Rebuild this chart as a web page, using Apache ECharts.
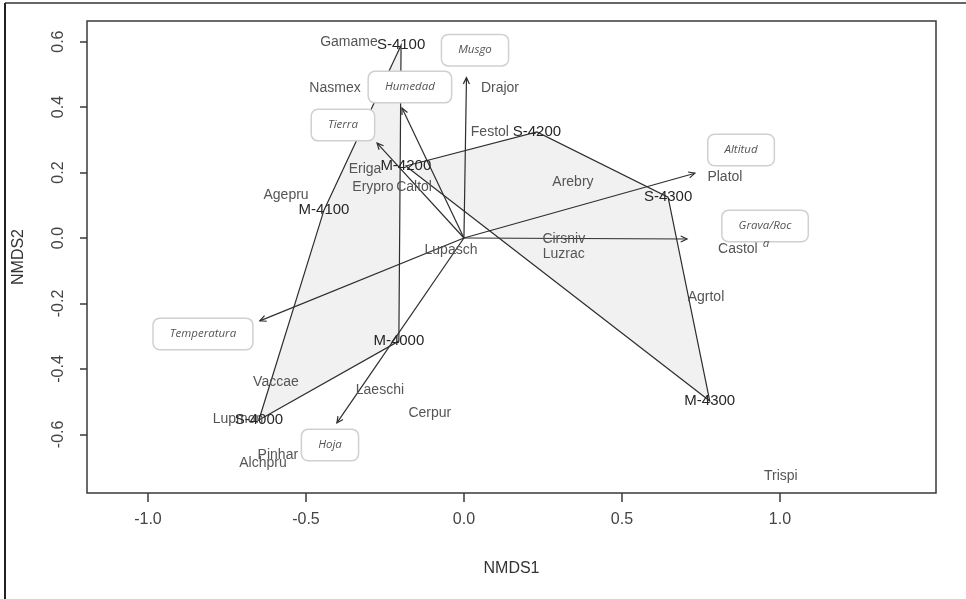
<!DOCTYPE html>
<html>
<head>
<meta charset="utf-8">
<script src="https://cdn.jsdelivr.net/npm/echarts@6/dist/echarts.min.js"></script>
<style>
  html, body { margin: 0; padding: 0; background: #fff; }
  #chart { width: 966px; height: 599px; }
</style>
</head>
<body>
<div id="chart"></div>
<script>
// NMDS ordination: site scores, species scores, hulls and fitted environmental vectors
const siteNames = ['S-4000', 'M-4000', 'M-4100', 'S-4100', 'M-4200', 'S-4200', 'S-4300', 'M-4300'];
const siteX = [-0.649, -0.206, -0.443, -0.199, -0.184, 0.231, 0.646, 0.778];
const siteY = [-0.556, -0.315, 0.085, 0.589, 0.220, 0.324, 0.125, -0.498];

// convex hulls, listed by site name
const hullA = ['S-4000', 'M-4100', 'S-4100', 'M-4000'];
const hullB = ['M-4200', 'S-4200', 'S-4300', 'M-4300'];

const speciesNames = ['Gamame', 'Nasmex', 'Drajor', 'Festol', 'Eriga', 'Erypro', 'Caltol', 'Agepru',
  'Lupasch', 'Arebry', 'Platol', 'Cirsniv', 'Luzrac', 'Castol', 'Agrtol', 'Vaccae', 'Laeschi',
  'Cerpur', 'Lupmon', 'Pinhar', 'Alchpru', 'Trispi'];
const speciesX = [-0.364, -0.408, 0.114, 0.082, -0.313, -0.288, -0.158, -0.563,
  -0.041, 0.345, 0.826, 0.316, 0.316, 0.867, 0.766, -0.595, -0.266,
  -0.108, -0.715, -0.589, -0.636, 1.003];
const speciesY = [0.598, 0.458, 0.458, 0.324, 0.211, 0.156, 0.156, 0.131,
  -0.037, 0.171, 0.186, -0.003, -0.049, -0.034, -0.180, -0.440, -0.464,
  -0.534, -0.553, -0.663, -0.687, -0.727];

// environmental vectors (arrow tips, drawn from the origin)
const vectorNames = ['Altitud', 'Grava/Roca', 'Musgo', 'Humedad', 'Tierra', 'Temperatura', 'Hoja'];
const vectorX = [0.731, 0.706, 0.008, -0.196, -0.275, -0.646, -0.402];
const vectorY = [0.198, -0.003, 0.490, 0.397, 0.290, -0.253, -0.565];

// boxed captions for the vectors
const captionText = ['Altitud', 'Grava/Roc', 'Musgo', 'Humedad', 'Tierra', 'Temperatura', 'Hoja'];
const captionX = [0.877, 0.953, 0.035, -0.171, -0.383, -0.826, -0.424];
const captionY = [0.269, 0.037, 0.574, 0.461, 0.345, -0.293, -0.632];
// wrapped tail of the "Grava/Roca" caption
const captionTail = ['a'];
const captionTailX = [0.956];
const captionTailY = [-0.018];

const xTicks = [-1.0, -0.5, 0.0, 0.5, 1.0];
const yTicks = [-0.6, -0.4, -0.2, 0.0, 0.2, 0.4, 0.6];

const FONT = '"Liberation Sans", Arial, sans-serif';
const CAPTION_FONT = '"Open Sans", "Liberation Sans", sans-serif';
const INK = '#262626';

const siteIndex = name => siteNames.indexOf(name);
const hullData = [hullA, hullB].map(h => h.map(n => [siteX[siteIndex(n)], siteY[siteIndex(n)]]));

const chart = echarts.init(document.getElementById('chart'), null, { renderer: 'canvas' });

const option = {
  backgroundColor: '#ffffff',
  animation: false,
  grid: {
    left: 87, right: 30, top: 21, bottom: 106,
    show: true, borderColor: '#3a3a3a', borderWidth: 1.5, backgroundColor: 'transparent'
  },
  xAxis: {
    type: 'value', min: -1.193, max: 1.494,
    name: 'NMDS1', nameLocation: 'middle', nameGap: 68,
    nameTextStyle: { fontFamily: FONT, fontSize: 16, color: '#333' },
    axisLine: { show: false, onZero: false },
    splitLine: { show: false },
    axisTick: { show: true, length: 9, customValues: xTicks, lineStyle: { color: '#3a3a3a', width: 1.5 } },
    axisLabel: {
      customValues: xTicks, margin: 19, fontFamily: FONT, fontSize: 16, color: '#444',
      formatter: v => v.toFixed(1)
    }
  },
  yAxis: {
    type: 'value', min: -0.779, max: 0.663,
    name: 'NMDS2', nameLocation: 'middle', nameGap: 60, nameRotate: 90,
    nameTextStyle: { fontFamily: FONT, fontSize: 16, color: '#333' },
    axisLine: { show: false, onZero: false },
    splitLine: { show: false },
    axisTick: { show: true, length: 7, customValues: yTicks, lineStyle: { color: '#3a3a3a', width: 1.5 } },
    axisLabel: {
      customValues: yTicks, margin: 20, rotate: 90, fontFamily: FONT, fontSize: 16, color: '#444',
      formatter: v => v.toFixed(1)
    }
  },
  graphic: [
    { type: 'line', shape: { x1: 5, y1: 3, x2: 966, y2: 3 }, style: { stroke: '#333', lineWidth: 1.5 } },
    { type: 'line', shape: { x1: 5, y1: 3, x2: 5, y2: 599 }, style: { stroke: '#222', lineWidth: 2 } }
  ],
  series: [
    {
      // site hulls
      type: 'custom', coordinateSystem: 'cartesian2d', z: 1,
      data: hullData.map((h, i) => [i]),
      renderItem: (params, api) => {
        const pts = hullData[api.value(0)].map(p => api.coord(p));
        return {
          type: 'polygon',
          shape: { points: pts },
          style: { fill: '#f1f1f1', stroke: '#2e2e2e', lineWidth: 1.2 }
        };
      }
    },
    {
      // environmental arrows with open heads
      type: 'custom', coordinateSystem: 'cartesian2d', z: 3,
      data: vectorX.map((x, i) => [x, vectorY[i]]),
      renderItem: (params, api) => {
        const o = api.coord([0, 0]);
        const t = api.coord([api.value(0), api.value(1)]);
        const ang = Math.atan2(t[1] - o[1], t[0] - o[0]);
        const L = 7, a = Math.PI / 7;
        const h1 = [t[0] - L * Math.cos(ang - a), t[1] - L * Math.sin(ang - a)];
        const h2 = [t[0] - L * Math.cos(ang + a), t[1] - L * Math.sin(ang + a)];
        const st = { stroke: '#2e2e2e', lineWidth: 1.2, fill: null };
        return {
          type: 'group',
          children: [
            { type: 'line', shape: { x1: o[0], y1: o[1], x2: t[0], y2: t[1] }, style: st },
            { type: 'polyline', shape: { points: [h1, t, h2] }, style: st }
          ]
        };
      }
    },
    {
      // species scores
      type: 'custom', coordinateSystem: 'cartesian2d', z: 4,
      data: speciesX.map((x, i) => [x, speciesY[i], i]),
      renderItem: (params, api) => {
        const p = api.coord([api.value(0), api.value(1)]);
        return {
          type: 'text', x: p[0], y: p[1],
          style: {
            text: speciesNames[api.value(2)], align: 'center', verticalAlign: 'middle',
            font: '14px ' + FONT, fill: '#555'
          }
        };
      }
    },
    {
      // site scores
      type: 'custom', coordinateSystem: 'cartesian2d', z: 5,
      data: siteX.map((x, i) => [x, siteY[i], i]),
      renderItem: (params, api) => {
        const p = api.coord([api.value(0), api.value(1)]);
        return {
          type: 'text', x: p[0], y: p[1],
          style: {
            text: siteNames[api.value(2)], align: 'center', verticalAlign: 'middle',
            font: '15px ' + FONT, fill: INK
          }
        };
      }
    },
    {
      // boxed vector captions
      type: 'custom', coordinateSystem: 'cartesian2d', z: 6,
      data: captionX.map((x, i) => [x, captionY[i], i]),
      renderItem: (params, api) => {
        const p = api.coord([api.value(0), api.value(1)]);
        return {
          type: 'text', x: p[0], y: p[1],
          style: {
            text: captionText[api.value(2)], align: 'center', verticalAlign: 'middle',
            font: 'italic 11.5px ' + CAPTION_FONT, fill: '#555',
            backgroundColor: '#fff', borderColor: '#d0d0d0', borderWidth: 1.5, borderRadius: 6,
            padding: [9, 16, 9, 16]
          }
        };
      }
    },
    {
      type: 'custom', coordinateSystem: 'cartesian2d', z: 6,
      data: captionTailX.map((x, i) => [x, captionTailY[i], i]),
      renderItem: (params, api) => {
        const p = api.coord([api.value(0), api.value(1)]);
        return {
          type: 'text', x: p[0], y: p[1],
          style: {
            text: captionTail[api.value(2)], align: 'center', verticalAlign: 'middle',
            font: 'italic 11.5px ' + CAPTION_FONT, fill: '#555'
          }
        };
      }
    }
  ]
};

chart.setOption(option);
</script>
</body>
</html>
